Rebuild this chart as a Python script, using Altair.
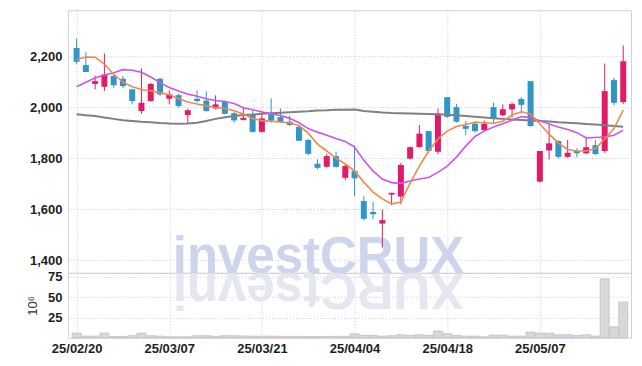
import altair as alt
import pandas as pd

dates = ["25/02/20", "25/02/21", "25/02/24", "25/02/25", "25/02/26", "25/02/27", "25/02/28",
         "25/03/04", "25/03/05", "25/03/06", "25/03/07", "25/03/10", "25/03/11", "25/03/12",
         "25/03/13", "25/03/14", "25/03/17", "25/03/18", "25/03/19", "25/03/20", "25/03/21",
         "25/03/24", "25/03/25", "25/03/26", "25/03/27", "25/03/28", "25/03/31", "25/04/01",
         "25/04/02", "25/04/03", "25/04/04", "25/04/07", "25/04/08", "25/04/09", "25/04/10",
         "25/04/11", "25/04/14", "25/04/15", "25/04/16", "25/04/17", "25/04/18", "25/04/21",
         "25/04/22", "25/04/23", "25/04/24", "25/04/25", "25/04/28", "25/04/29", "25/04/30",
         "25/05/02", "25/05/07", "25/05/08", "25/05/09", "25/05/12", "25/05/13", "25/05/14",
         "25/05/15", "25/05/16", "25/05/19", "25/05/20"]

opens = [2232, 2165, 2091, 2080, 2122, 2111, 2070, 1985, 2024, 2111,
         2033, 2047, 1969, 2033, 2026, 1995, 2021, 1976, 1950, 1972,
         1903, 1972, 1961, 1943, 1922, 1871, 1778, 1766, 1808, 1723,
         1750, 1632, 1589, 1543, 1657, 1649, 1798, 1843, 1906, 1825,
         2039, 2000, 1926, 1935, 1910, 2000, 1968, 1991, 2032, 2102,
         1708, 1830, 1867, 1805, 1828, 1819, 1851, 1828, 2106, 2020]
highs = [2269, 2216, 2124, 2210, 2128, 2122, 2070, 2152, 2095, 2115,
         2066, 2052, 1995, 2066, 2062, 2046, 2026, 1982, 1998, 1987,
         1986, 2034, 1995, 1967, 1930, 1876, 1795, 1817, 1825, 1778,
         1850, 1650, 1628, 1599, 1664, 1782, 1846, 1930, 1906, 1995,
         2039, 2013, 1945, 1945, 1948, 2018, 2011, 2019, 2039, 2102,
         1828, 1937, 1871, 1871, 1839, 1884, 1871, 2171, 2115, 2242]
lows = [2168, 2138, 2070, 2063, 2076, 2074, 2011, 1974, 2021, 2043,
        2011, 1998, 1935, 2017, 1982, 1991, 1972, 1939, 1948, 1900,
        1900, 1939, 1939, 1926, 1867, 1812, 1756, 1762, 1762, 1713,
        1650, 1557, 1560, 1449, 1615, 1619, 1794, 1841, 1821, 1815,
        1958, 1939, 1890, 1900, 1906, 1939, 1964, 1960, 1975, 1923,
        1704, 1794, 1798, 1802, 1803, 1815, 1813, 1821, 2007, 2013]
closes = [2178, 2138, 2102, 2128, 2086, 2083, 2024, 2017, 2091, 2050,
          2050, 2004, 1988, 2024, 1985, 2011, 1974, 1948, 1958, 1903,
          1956, 1948, 1941, 1930, 1868, 1817, 1762, 1808, 1766, 1769,
          1721, 1562, 1580, 1557, 1664, 1773, 1843, 1896, 1828, 1975,
          1962, 1943, 1915, 1906, 1935, 1956, 1992, 2012, 2009, 1926,
          1828, 1858, 1805, 1821, 1819, 1843, 1816, 2063, 2017, 2180]
volumes = [5.8, 2.0, 2.0, 5.8, 1.5, 1.5, 2.5, 5.8, 2.5, 2.0,
           1.2, 1.2, 1.2, 2.5, 2.5, 1.7, 2.5, 2.5, 2.2, 2.0,
           2.0, 2.0, 1.7, 1.7, 1.7, 1.5, 1.5, 1.7, 1.7, 1.7,
           5.0, 2.9, 2.9, 2.0, 2.5, 3.7, 2.9, 3.7, 2.9, 8.3,
           5.0, 2.9, 2.0, 2.0, 1.2, 3.3, 3.3, 2.0, 2.0, 7.0,
           5.8, 5.8, 3.7, 3.7, 2.9, 3.7, 2.0, 72.5, 13.5, 44.0]
ma_short = [2187, 2197, 2196, 2169, 2129, 2098, 2080, 2069, 2064, 2057,
            2049, 2034, 2020, 2012, 2005, 1998, 1996, 1986, 1973, 1955,
            1947, 1945, 1942, 1939, 1927, 1898, 1855, 1828, 1800, 1777,
            1750, 1706, 1667, 1640, 1620, 1628, 1702, 1769, 1828, 1875,
            1906, 1924, 1932, 1941, 1939, 1937, 1945, 1969, 1982, 1973,
            1934, 1894, 1859, 1834, 1828, 1828, 1838, 1875, 1916, 1988]
ma_mid = [2080, 2098, 2114, 2126, 2135, 2147, 2145, 2137, 2118, 2096,
          2077, 2063, 2051, 2043, 2033, 2026, 2022, 2014, 1998, 1990,
          1981, 1974, 1967, 1956, 1939, 1916, 1902, 1890, 1877, 1865,
          1843, 1792, 1749, 1718, 1704, 1701, 1710, 1718, 1724, 1744,
          1769, 1804, 1847, 1885, 1906, 1922, 1935, 1949, 1963, 1959,
          1947, 1934, 1922, 1912, 1900, 1879, 1881, 1883, 1890, 1910]
ma_long = [1972, 1968, 1965, 1959, 1954, 1949, 1946, 1943, 1941, 1938,
           1936, 1935, 1936, 1939, 1946, 1954, 1960, 1965, 1969, 1971,
           1974, 1976, 1978, 1980, 1982, 1984, 1987, 1988, 1990, 1990,
           1991, 1985, 1982, 1979, 1977, 1976, 1975, 1974, 1973, 1972,
           1970, 1968, 1965, 1962, 1959, 1956, 1954, 1952, 1950, 1948,
           1946, 1944, 1941, 1939, 1937, 1934, 1932, 1929, 1926, 1923]

price_ticks = [1400, 1600, 1800, 2000, 2200]
vol_ticks = [25, 50, 75]
x_tick_idx = [0, 10, 20, 30, 40, 50]
watermark = "investCRUX"

RED = "#e21b68"
BLUE = "#2e96c8"
FONT = "Liberation Sans"

df = pd.DataFrame({
    "i": list(range(len(dates))), "date": dates, "open": opens, "high": highs,
    "low": lows, "close": closes, "vol": volumes,
    "ma_s": ma_short, "ma_m": ma_mid, "ma_l": ma_long,
})
df["dir"] = ["up" if c >= o else "down" for o, c in zip(opens, closes)]

label_expr = "[" + ",".join("'%s'" % d for d in dates) + "][datum.value]"

xs = alt.Scale(domain=[-0.4, 59.3], nice=False, zero=False)
ys = alt.Scale(domain=[1350, 2380], nice=False, zero=False)
vs = alt.Scale(domain=[0, 80], nice=False)

x_price = alt.X("i:Q", scale=xs, axis=alt.Axis(values=x_tick_idx, labels=False, ticks=False,
                                               domain=False, grid=True, title=None))
y_axis = alt.Axis(values=price_ticks, format=",d", ticks=False, domain=False, grid=True,
                  title=None, labelPadding=6)
color = alt.Color("dir:N", scale=alt.Scale(domain=["up", "down"], range=[RED, BLUE]), legend=None)

base = alt.Chart(df).encode(x=x_price)

wm = alt.Chart(pd.DataFrame({"t": [watermark]})).mark_text(
    font="Liberation Sans", fontWeight="bold", fontSize=51, color="#c6cde8",
    opacity=0.85, align="center", baseline="alphabetic"
).encode(text="t:N", x=alt.value(251), y=alt.value(263))

wick = base.mark_rule(strokeWidth=1).encode(
    y=alt.Y("low:Q", scale=ys, axis=y_axis), y2="high:Q", color=color)
body = base.mark_bar(size=6).encode(
    y=alt.Y("open:Q", scale=ys, axis=y_axis), y2="close:Q", color=color)
line_l = base.mark_line(color="#808080", strokeWidth=2).encode(
    y=alt.Y("ma_l:Q", scale=ys, axis=y_axis))
line_m = base.mark_line(color="#cc55ee", strokeWidth=1.6).encode(
    y=alt.Y("ma_m:Q", scale=ys, axis=y_axis))
line_s = base.mark_line(color="#f08a4b", strokeWidth=1.6).encode(
    y=alt.Y("ma_s:Q", scale=ys, axis=y_axis))

price = alt.layer(wm, wick, body, line_l, line_m, line_s).properties(width=564, height=263)

reflect = alt.Chart(pd.DataFrame({"t": [watermark[::-1]]})).mark_text(
    font="Liberation Sans", fontWeight="bold", fontSize=51, color="#e2e4ef",
    opacity=0.9, align="center", baseline="alphabetic", angle=180
).encode(text="t:N", x=alt.value(251), y=alt.value(0))

vol = alt.Chart(df).mark_bar(size=9, color="#d8d8d8", stroke="#c2c2c2", strokeWidth=0.8).encode(
    x=alt.X("i:Q", scale=xs, axis=alt.Axis(values=x_tick_idx, labelExpr=label_expr, ticks=False,
                                           domain=False, grid=True, title=None, labelPadding=5)),
    y=alt.Y("vol:Q", scale=vs, axis=alt.Axis(values=vol_ticks, ticks=False, domain=False,
                                             grid=True, title="10⁶", labelPadding=6,
                                             titlePadding=8)),
)
volume = alt.layer(reflect, vol).properties(width=564, height=65)

chart = alt.vconcat(price, volume, spacing=0, bounds="flush").properties(
    padding={"left": 18, "top": 1, "right": 2, "bottom": 0}
).configure_view(stroke="#d2d2d2", strokeWidth=1).configure_axis(
    gridColor="#c5c9df", gridDash=[1, 2], gridWidth=1,
    labelFont=FONT, labelFontSize=13, labelColor="#1e1e1e", labelFontWeight="bold",
    titleFont=FONT, titleFontSize=13, titleColor="#333333", titleFontWeight="normal",
)

chart.save("out.html", embed_options={"renderer": "svg", "actions": False})
